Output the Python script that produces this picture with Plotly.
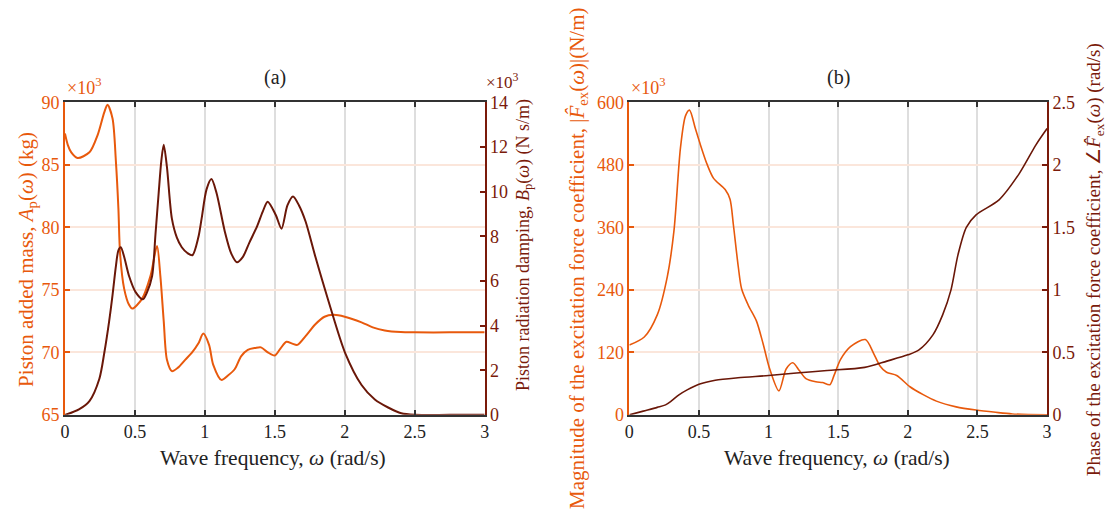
import plotly.graph_objects as go

# ---------------- data ----------------
# (a) piston added mass A_p (x10^3 kg) and radiation damping B_p (x10^3 N s/m)
omega_A = [0, 0.02, 0.045, 0.09, 0.175, 0.234, 0.281, 0.304, 0.34, 0.364, 0.382, 0.394,
           0.423, 0.458, 0.481, 0.552, 0.611, 0.658, 0.682, 0.706, 0.729, 0.764, 0.81,
           0.859, 0.906, 0.953, 0.989, 1.03, 1.06, 1.118, 1.165, 1.213, 1.26, 1.307, 1.36,
           1.401, 1.45, 1.50, 1.54, 1.583, 1.625, 1.661, 1.72, 1.79, 1.855, 1.92, 2.0,
           2.12, 2.2, 2.286, 2.4, 2.5, 2.75, 3.0]
added_mass = [87.5, 86.6, 86.0, 85.55, 86.0, 87.4, 89.2, 89.8, 88.7, 85.3, 81.5, 77.9,
              75.1, 73.8, 73.5, 74.3, 76.1, 78.5, 76.1, 72.5, 69.4, 68.5, 68.8,
              69.4, 69.95, 70.7, 71.5, 70.6, 69.0, 67.8, 68.15, 68.65, 69.7, 70.2, 70.35,
              70.4, 70.0, 69.75, 70.3, 70.85, 70.7, 70.6, 71.3, 72.25, 72.85, 73.0, 72.85,
              72.4, 72.0, 71.75, 71.62, 71.6, 71.6, 71.6]

omega_B = [0, 0.1, 0.175, 0.246, 0.281, 0.316, 0.34, 0.364, 0.382, 0.399, 0.423, 0.458,
           0.505, 0.557, 0.587, 0.623, 0.647, 0.670, 0.689, 0.706, 0.729, 0.764, 0.8,
           0.835, 0.875, 0.911, 0.953, 0.977, 1.012, 1.047, 1.083, 1.142, 1.189, 1.229,
           1.272, 1.319, 1.373, 1.413, 1.449, 1.507, 1.548, 1.59, 1.63, 1.673, 1.72, 1.79,
           1.885, 2.003, 2.12, 2.215, 2.31, 2.404, 2.5, 2.75, 3.0]
rad_damping = [0, 0.25, 0.62, 1.62, 2.77, 4.2, 5.36, 6.65, 7.37, 7.51, 7.08, 6.22,
               5.5, 5.18, 5.5, 6.22, 8.09, 9.95, 11.39, 12.1, 11.1, 8.8, 7.94,
               7.51, 7.25, 7.15, 7.94, 8.8, 10.1, 10.56, 9.95, 8.23, 7.22, 6.84,
               7.08, 7.73, 8.44, 9.09, 9.55, 8.95, 8.34, 9.38, 9.78, 9.38, 8.66, 7.08,
               5.07, 2.77, 1.34, 0.69, 0.33, 0.07, 0, 0, 0]

# (b) excitation force coefficient: magnitude (x10^3 N/m) and phase (rad)
omega_F = [0, 0.107, 0.201, 0.273, 0.32, 0.367, 0.403, 0.432, 0.474, 0.51, 0.557, 0.605,
           0.688, 0.723, 0.747, 0.782, 0.806, 0.853, 0.913, 0.96, 1.008, 1.074, 1.126,
           1.174, 1.221, 1.268, 1.339, 1.387, 1.44, 1.47, 1.517, 1.588, 1.695, 1.753,
           1.80, 1.847, 1.92, 2.015, 2.11, 2.205, 2.347, 2.49, 2.63, 2.75, 3.0]
force_mag = [134, 149.5, 192.5, 266, 352.6, 512.6, 574, 585, 549.6, 518.7, 481.8, 454,
             432.5, 414, 365, 284.8, 242, 211, 180, 137, 88, 46, 88,
             100, 85, 69.6, 63.4, 62, 58, 75.7, 106.5, 131, 144.6, 118.7,
             94, 81.8, 75.7, 54, 38.8, 26.4, 15.4, 9.2, 4.9, 1.8, 0]

omega_P = [0, 0.1, 0.2, 0.26, 0.3, 0.356, 0.415, 0.5, 0.617, 0.78, 1.0, 1.2, 1.42, 1.69,
           1.85, 2.0, 2.08, 2.18, 2.25, 2.31, 2.36, 2.42, 2.49, 2.655, 2.8, 2.92, 3.0]
force_phase = [0, 0.03, 0.06, 0.08, 0.11, 0.16, 0.20, 0.245, 0.277, 0.297, 0.315, 0.335,
               0.355, 0.38, 0.43, 0.48, 0.52, 0.64, 0.80, 1.0, 1.28, 1.50, 1.60, 1.72,
               1.93, 2.16, 2.29]

x_ticks = [0, 0.5, 1, 1.5, 2, 2.5, 3]
x_labels = ["0", "0.5", "1", "1.5", "2", "2.5", "3"]
A_ticks = [65, 70, 75, 80, 85, 90]
B_ticks = [0, 2, 4, 6, 8, 10, 12, 14]
F_ticks = [0, 120, 240, 360, 480, 600]
P_ticks = [0, 0.5, 1, 1.5, 2, 2.5]
P_labels = ["0", "0.5", "1", "1.5", "2", "2.5"]

# ---------------- style ----------------
ORANGE = "#E8590C"
DARK = "#6A1708"
AXIS_DARK = "#7A1A0A"
FONT = "Liberation Serif"
FS = 18          # tick labels
FT = 20          # panel labels
W, H = 1117, 522

def px_x(p):
    return p / W

def px_y(p):
    return (H - p) / H

ydom = [px_y(421), px_y(96)]
xdom_a = [px_x(60.5), px_x(484)]
xdom_b = [px_x(630), px_x(1051.5)]

fig = go.Figure()
line_kw = dict(mode="lines", line_shape="spline", hoverinfo="skip", showlegend=False)
fig.add_trace(go.Scatter(x=omega_A, y=added_mass, xaxis="x", yaxis="y",
                         line=dict(color=ORANGE, width=2, smoothing=0.8), **line_kw))
fig.add_trace(go.Scatter(x=omega_B, y=rad_damping, xaxis="x", yaxis="y2",
                         line=dict(color=DARK, width=2, smoothing=0.8), **line_kw))
fig.add_trace(go.Scatter(x=omega_F, y=force_mag, xaxis="x2", yaxis="y3",
                         line=dict(color=ORANGE, width=1.6, smoothing=0.8), **line_kw))
fig.add_trace(go.Scatter(x=omega_P, y=force_phase, xaxis="x2", yaxis="y4",
                         line=dict(color=DARK, width=1.6, smoothing=0.8), **line_kw))

tickfont_dark = dict(family=FONT, size=FS, color="#222222")

def xaxis(dom, anchor):
    return dict(domain=dom, anchor=anchor, range=[0, 3], tickvals=x_ticks, ticktext=x_labels,
                showgrid=True, gridcolor="#dedede", gridwidth=1.5, zeroline=False,
                showline=True, linecolor="#333333", linewidth=1.5, mirror="ticks",
                ticks="inside", ticklen=5, tickwidth=1.5, tickcolor="#333333",
                tickfont=tickfont_dark)

def yaxis_left(anchor, rng, vals, labels=None):
    d = dict(domain=ydom, anchor=anchor, range=rng, tickvals=vals,
             showgrid=True, gridcolor="#FBE6DB", gridwidth=1.5, zeroline=False,
             showline=True, linecolor=ORANGE, linewidth=1.5,
             ticks="inside", ticklen=5, tickwidth=1.5, tickcolor=ORANGE,
             tickfont=dict(family=FONT, size=FS, color=ORANGE))
    if labels:
        d["ticktext"] = labels
    return d

def yaxis_right(anchor, over, rng, vals, labels=None):
    d = dict(domain=ydom, anchor=anchor, overlaying=over, side="right", range=rng,
             tickvals=vals, showgrid=False, zeroline=False,
             showline=True, linecolor=AXIS_DARK, linewidth=1.5,
             ticks="inside", ticklen=5, tickwidth=1.5, tickcolor=AXIS_DARK,
             tickfont=dict(family=FONT, size=FS, color=AXIS_DARK))
    if labels:
        d["ticktext"] = labels
    return d

fig.update_layout(
    width=W, height=H,
    margin=dict(l=0, r=0, t=0, b=0),
    paper_bgcolor="white", plot_bgcolor="white",
    font=dict(family=FONT, size=FS),
    xaxis=xaxis(xdom_a, "y"),
    yaxis=yaxis_left("x", [65, 90], A_ticks),
    yaxis2=yaxis_right("x", "y", [0, 14], B_ticks),
    xaxis2=xaxis(xdom_b, "y3"),
    yaxis3=yaxis_left("x2", [0, 600], F_ticks),
    yaxis4=yaxis_right("x2", "y3", [0, 2.5], P_ticks, P_labels),
)

def note(text, x, y, color="#222222", angle=0, xanchor="center", size=FT):
    fig.add_annotation(text=text, x=x, y=y, xref="paper", yref="paper",
                       xanchor=xanchor, yanchor="middle", textangle=angle,
                       showarrow=False, font=dict(family=FONT, size=size, color=color))

# panel labels
note("(a)", px_x(272), px_y(70))
note("(b)", px_x(841), px_y(70))

# exponent labels
note("×10<sup>3</sup>", px_x(61), px_y(80), ORANGE, xanchor="left", size=18)
note("×10<sup>3</sup>", px_x(483), px_y(74), AXIS_DARK, xanchor="left", size=17)
note("×10<sup>3</sup>", px_x(630), px_y(80), ORANGE, xanchor="left", size=18)

# axis titles
xt = "Wave frequency, <i>ω</i> (rad/s)"
note(xt, px_x(270), px_y(466), size=21.5)
note(xt, px_x(840), px_y(466), size=21.5)
note("Piston added mass, <i>A</i><sub>p</sub>(<i>ω</i>) (kg)",
     px_x(22), px_y(259), ORANGE, angle=-90, size=21)
note("Piston radiation damping, <i>B</i><sub>p</sub>(<i>ω</i>) (N s/m)",
     px_x(524), px_y(244), AXIS_DARK, angle=-90, size=18)
note("Magnitude of the excitation force coefficient, |<i>F̂</i><sub>ex</sub>(<i>ω</i>)|(N/m)",
     px_x(578), px_y(258), ORANGE, angle=-90, size=21)
note("Phase of the excitation force coefficient, ∠<i>F̂</i><sub>ex</sub>(<i>ω</i>) (rad/s)",
     px_x(1100), px_y(260), AXIS_DARK, angle=-90, size=19)

fig.write_html("out.html")
